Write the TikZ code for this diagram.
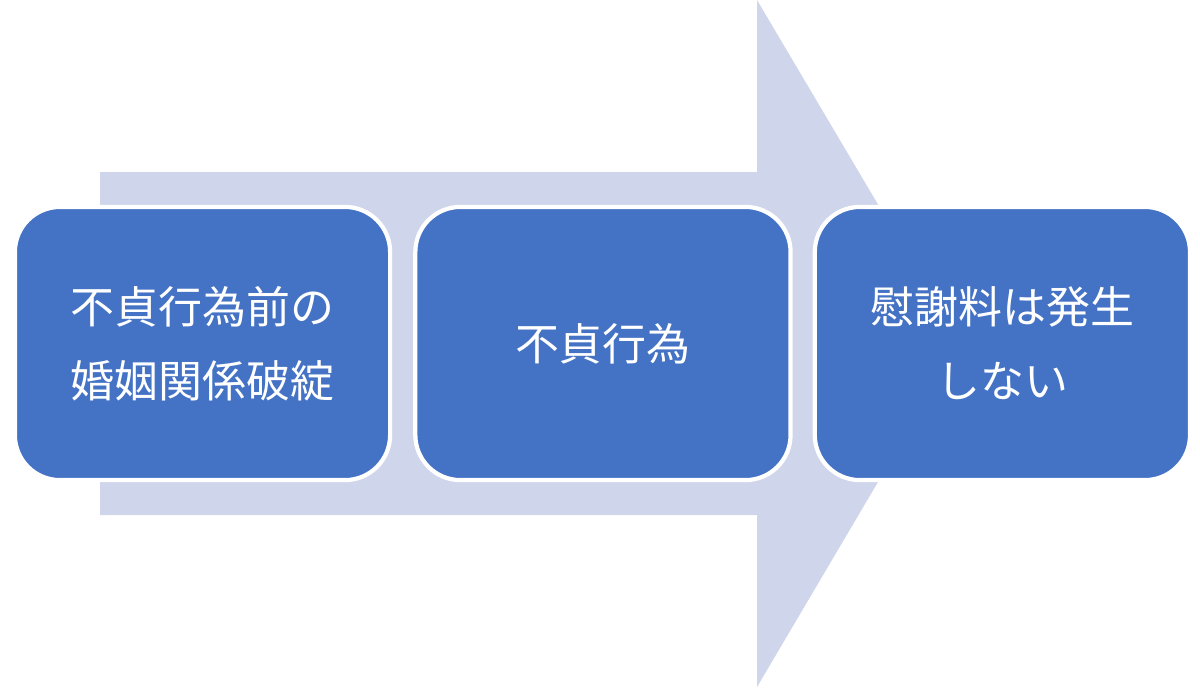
\documentclass[tikz,border=0pt]{standalone}
\usepackage{fontspec}
\newfontfamily\cjk{Noto Sans CJK JP}
\usepackage{xcolor}
\usetikzlibrary{positioning}
\definecolor{arrowfill}{HTML}{CFD5EA}
\definecolor{boxfill}{HTML}{4472C4}

\begin{document}
\begin{tikzpicture}[
    x=0.01cm, y=-0.01cm,
    stagebox/.style={rectangle, draw=white, line width=1.2pt, fill=boxfill, rounded corners=0.45cm,
        minimum width=3.75cm, minimum height=2.73cm, align=center, text=white,
        font=\cjk\fontsize{12.5}{21}\selectfont, inner sep=0pt}
]
\useasboundingbox (0,0) rectangle (1200,687);

% Background arrow
\fill[arrowfill] (100,172) -- (757,172) -- (757,0) -- (960,343) -- (757,687) -- (757,515) -- (100,515) -- cycle;

% Stages
\node[stagebox] (before) at (202.5,343.5) {不貞行為前の\\婚姻関係破綻};
\node[stagebox, right=0.21cm of before] (act) {不貞行為};
\node[stagebox, right=0.2cm of act] (result) {慰謝料は発生\\しない};

\end{tikzpicture}
\end{document}
